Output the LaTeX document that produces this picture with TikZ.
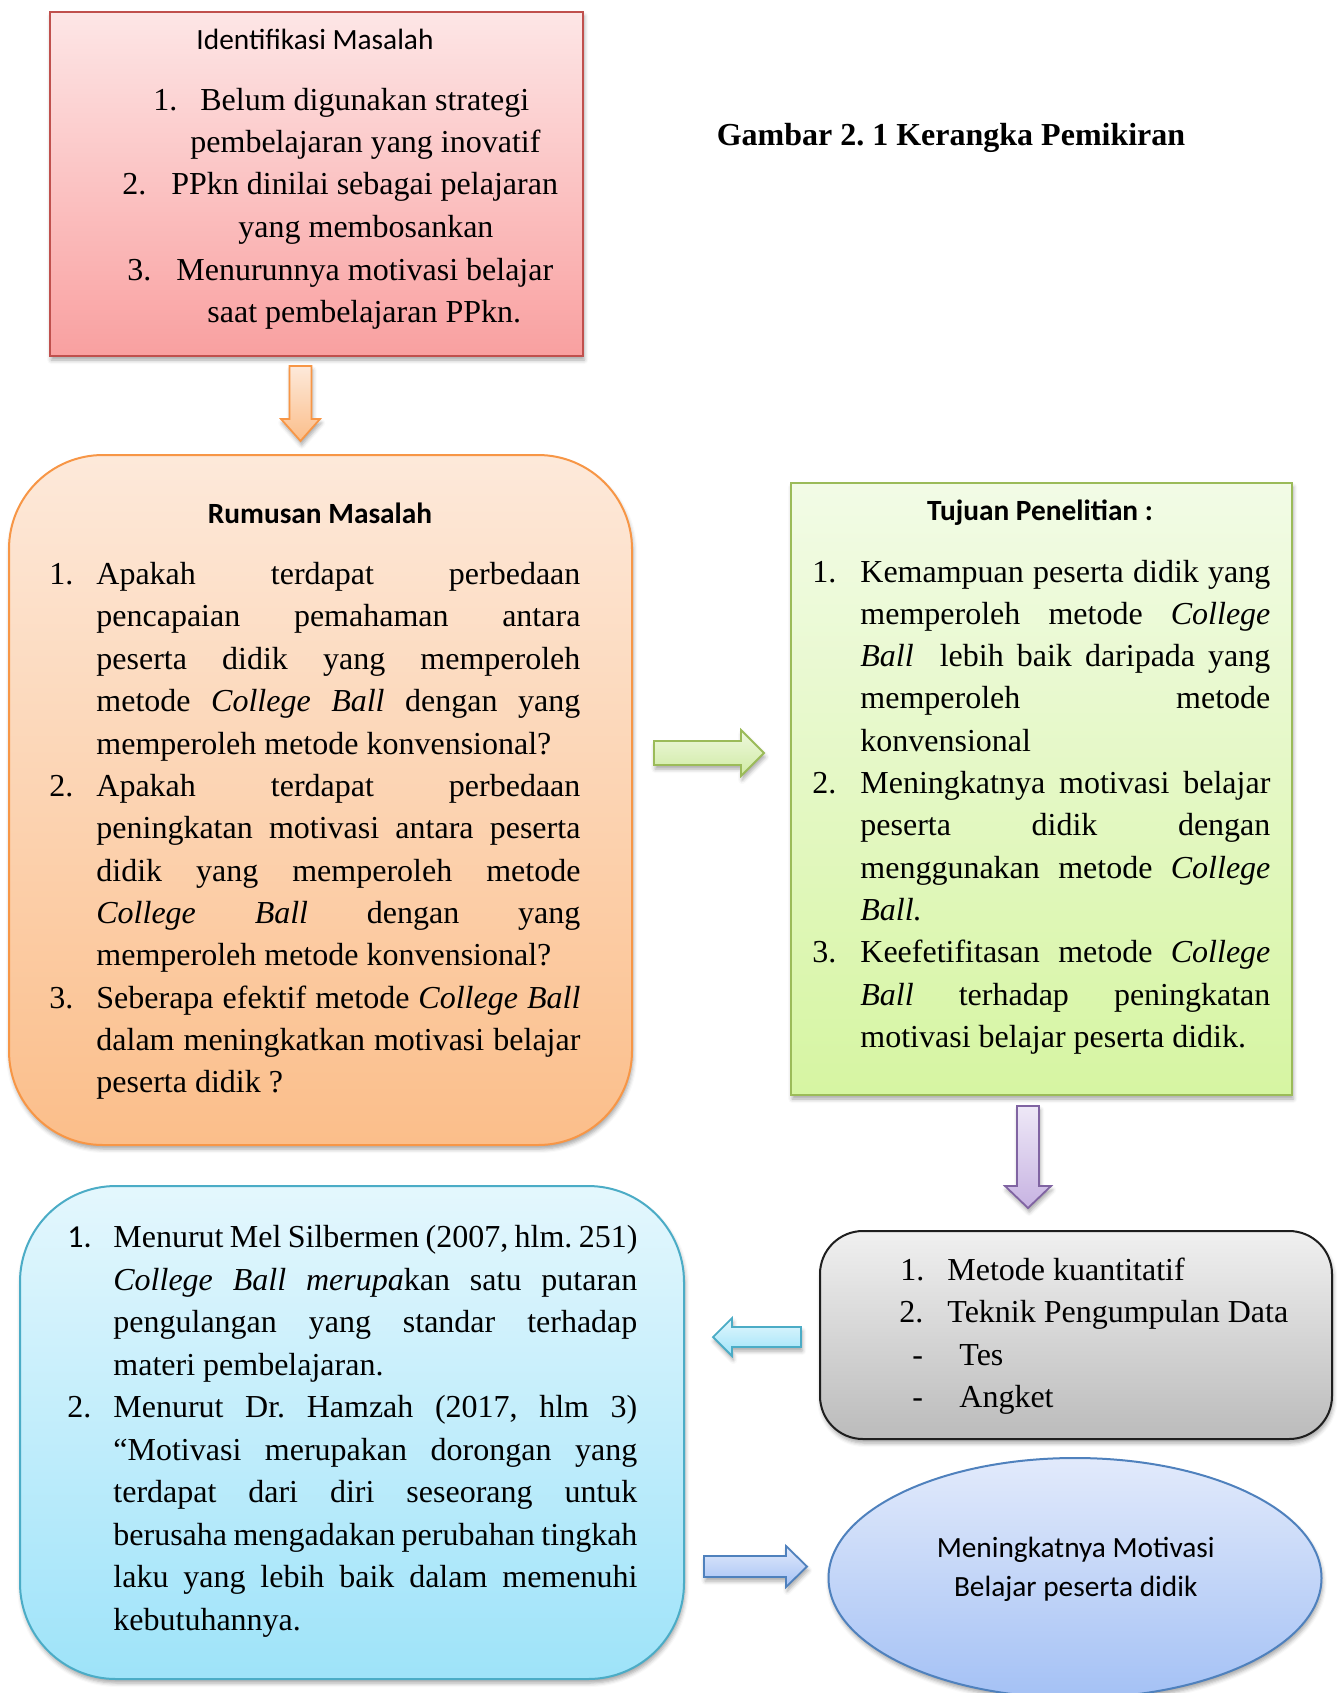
\documentclass[tikz,border=0pt]{standalone}
\usepackage{fontspec}
\setmainfont{Liberation Serif}
\newfontfamily\calfont{Carlito}
\usetikzlibrary{shapes.geometric,shadows.blur}
\newcommand\bodyfont{\fontsize{16}{21.25}\selectfont}
\newcommand\headfont{\calfont\fontsize{14.67}{19.5}\selectfont}
\newcommand\justline[2]{\makebox[#1][s]{#2}}
\definecolor{redB}{HTML}{C0504D}\definecolor{redT}{HTML}{FDE6E6}\definecolor{redBot}{HTML}{F9A0A0}
\definecolor{orB}{HTML}{F79646}\definecolor{orT}{HTML}{FDE9DA}\definecolor{orBot}{HTML}{FBBE8A}
\definecolor{grB}{HTML}{9BBB59}\definecolor{grT}{HTML}{F2FBE6}\definecolor{grBot}{HTML}{D6F5A2}
\definecolor{gyB}{HTML}{1E1E1E}\definecolor{gyT}{HTML}{F0F0F0}\definecolor{gyBot}{HTML}{BBBBBB}
\definecolor{cyB}{HTML}{4BACC6}\definecolor{cyT}{HTML}{E4F7FD}\definecolor{cyBot}{HTML}{9EE3F9}
\definecolor{blB}{HTML}{4F81BD}\definecolor{blT}{HTML}{E2EAFB}\definecolor{blBot}{HTML}{A4C1F5}
\definecolor{puB}{HTML}{8064A2}\definecolor{puT}{HTML}{EEE8F7}\definecolor{puBot}{HTML}{C7B3E2}
\definecolor{gaT}{HTML}{EEF8DD}\definecolor{gaBot}{HTML}{CFEAA3}
\frenchspacing
\begin{document}
\begin{tikzpicture}[x=0.5pt,y=-0.5pt,
  shadowed/.style={blur shadow={shadow xshift=0.6pt,shadow yshift=-2pt,shadow blur radius=2pt,shadow opacity=35}},
  panel/.style={draw, line width=1pt, inner sep=0pt, shadowed},
  tl/.style={anchor=base west, inner sep=0pt, font=\bodyfont},
  hd/.style={anchor=base, inner sep=0pt, font=\headfont},
  hdb/.style={anchor=base, inner sep=0pt, font=\headfont\bfseries},
  barrow/.style={line width=0.9pt, line join=miter, shadowed}]
\useasboundingbox (0,0) rectangle (1339,1693);

% ---------- title
\node[anchor=base, inner sep=0pt, font=\bodyfont\bfseries] (title) at (951,145) {Gambar 2. 1 Kerangka Pemikiran};

% ---------- Identifikasi Masalah
\node[panel, draw=redB, top color=redT, bottom color=redBot, minimum width=266.5pt, minimum height=172pt] (idbox) at (316.5,184) {};
\node[hd] (idh) at (315,49) {Identifikasi Masalah};
\node[tl] (id1n) at (153,110.4) {1.};
\node[tl] (id1) at (200,110.4) {Belum digunakan strategi};
\node[tl] (id1b) at (190,152.6) {pembelajaran yang inovatif};
\node[tl] (id2n) at (122,194.7) {2.};
\node[tl] (id2) at (171,194.7) {PPkn dinilai sebagai pelajaran};
\node[tl] (id2b) at (238,237.9) {yang membosankan};
\node[tl] (id3n) at (127,280) {3.};
\node[tl] (id3) at (176,280) {Menurunnya motivasi belajar};
\node[tl] (id3b) at (207,322) {saat pembelajaran PPkn.};

% arrow down (orange)
\path[barrow, draw=orB, top color=orT, bottom color=orBot]
  (289.5,366) -- (311.5,366) -- (311.5,419) -- (320,419) -- (300.5,441) -- (281,419) -- (289.5,419) -- cycle;

% ---------- Rumusan Masalah
\node[panel, draw=orB, top color=orT, bottom color=orBot, rounded corners=47pt, minimum width=311.5pt, minimum height=345pt] (rmbox) at (320.5,800) {};
\node[hdb] (rmh) at (320,523) {Rumusan Masalah};
\node[tl] (rm1n) at (49,{584.6+42.35*0}) {1.};
\node[tl] (rm1a) at (96,{584.6+42.35*0}) {\justline{242pt}{Apakah terdapat perbedaan}};
\node[tl] (rm1b) at (96,{584.6+42.35*1}) {\justline{242pt}{pencapaian pemahaman antara}};
\node[tl] (rm1c) at (96,{584.6+42.35*2}) {\justline{242pt}{peserta didik yang memperoleh}};
\node[tl] (rm1d) at (96,{584.6+42.35*3}) {\justline{242pt}{metode \textit{College Ball} dengan yang}};
\node[tl] (rm1e) at (96,{584.6+42.35*4}) {memperoleh metode konvensional?};
\node[tl] (rm2n) at (49,{584.6+42.35*5}) {2.};
\node[tl] (rm2a) at (96,{584.6+42.35*5}) {\justline{242pt}{Apakah terdapat perbedaan}};
\node[tl] (rm2b) at (96,{584.6+42.35*6}) {\justline{242pt}{peningkatan motivasi antara peserta}};
\node[tl] (rm2c) at (96,{584.6+42.35*7}) {\justline{242pt}{didik yang memperoleh metode}};
\node[tl] (rm2d) at (96,{584.6+42.35*8}) {\justline{242pt}{\textit{College} \textit{Ball} dengan yang}};
\node[tl] (rm2e) at (96,{584.6+42.35*9}) {memperoleh metode konvensional?};
\node[tl] (rm3n) at (49,{584.6+42.35*10}) {3.};
\node[tl] (rm3a) at (96,{584.6+42.35*10}) {\justline{242pt}{Seberapa efektif metode \textit{College Ball}}};
\node[tl] (rm3b) at (96,{584.6+42.35*11}) {\justline{242pt}{dalam meningkatkan motivasi belajar}};
\node[tl] (rm3c) at (96,{584.6+42.35*12}) {peserta didik ?};

% arrow right (green)
\path[barrow, draw=grB, top color=gaT, bottom color=gaBot]
  (654,741) -- (741,741) -- (741,730) -- (764,753) -- (741,776) -- (741,765) -- (654,765) -- cycle;

% ---------- Tujuan Penelitian
\node[panel, draw=grB, top color=grT, bottom color=grBot, minimum width=250.5pt, minimum height=306pt] (tpbox) at (1041.5,789) {};
\node[hdb] (tph) at (1040,520) {Tujuan Penelitian :};
\node[tl] (tp1n) at (812,{582+42.3*0}) {1.};
\node[tl] (tp1a) at (860,{582+42.3*0}) {\justline{205pt}{Kemampuan peserta didik yang}};
\node[tl] (tp1b) at (860,{582+42.3*1}) {\justline{205pt}{memperoleh metode \textit{College}}};
\node[tl] (tp1c) at (860,{582+42.3*2}) {\justline{205pt}{\textit{Ball}\ \ lebih baik daripada yang}};
\node[tl] (tp1d) at (860,{582+42.3*3}) {\justline{205pt}{memperoleh metode}};
\node[tl] (tp1e) at (860,{582+42.3*4}) {konvensional};
\node[tl] (tp2n) at (812,{582+42.3*5}) {2.};
\node[tl] (tp2a) at (860,{582+42.3*5}) {\justline{205pt}{Meningkatnya motivasi belajar}};
\node[tl] (tp2b) at (860,{582+42.3*6}) {\justline{205pt}{peserta didik dengan}};
\node[tl] (tp2c) at (860,{582+42.3*7}) {\justline{205pt}{menggunakan metode \textit{College}}};
\node[tl] (tp2d) at (860,{582+42.3*8}) {\textit{Ball.}};
\node[tl] (tp3n) at (812,{582+42.3*9}) {3.};
\node[tl] (tp3a) at (860,{582+42.3*9}) {\justline{205pt}{Keefetifitasan metode \textit{College}}};
\node[tl] (tp3b) at (860,{582+42.3*10}) {\justline{205pt}{\textit{Ball} terhadap peningkatan}};
\node[tl] (tp3c) at (860,{582+42.3*11}) {motivasi belajar peserta didik.};

% arrow down (purple)
\path[barrow, draw=puB, top color=puT, bottom color=puBot]
  (1017,1106) -- (1039,1106) -- (1039,1186) -- (1051,1186) -- (1028,1208) -- (1005,1186) -- (1017,1186) -- cycle;

% ---------- Metode
\node[panel, draw=gyB, top color=gyT, bottom color=gyBot, rounded corners=21.5pt, minimum width=256pt, minimum height=104pt] (mtbox) at (1076,1335) {};
\node[tl] (mt1n) at (900,{1280+42.6*0}) {1.};
\node[tl] (mt1) at (947,{1280+42.6*0}) {Metode kuantitatif};
\node[tl] (mt2n) at (899,{1280+42.6*1}) {2.};
\node[tl] (mt2) at (947,{1280+42.6*1}) {Teknik Pengumpulan Data};
\node[tl] (mt3n) at (912,{1280+42.6*2}) {-};
\node[tl] (mt3) at (959,{1280+42.6*2}) {Tes};
\node[tl] (mt4n) at (912,{1280+42.6*3}) {-};
\node[tl] (mt4) at (959,{1280+42.6*3}) {Angket};

% arrow left (cyan)
\path[barrow, draw=cyB, top color=cyT, bottom color=cyBot]
  (801,1327) -- (732,1327) -- (732,1318) -- (713,1337) -- (732,1356) -- (732,1347) -- (801,1347) -- cycle;

% ---------- Teori
\node[panel, draw=cyB, top color=cyT, bottom color=cyBot, rounded corners=48pt, minimum width=332pt, minimum height=246.5pt] (thbox) at (352,1432.5) {};
\node[tl] (th1n) at (67,{1247.7+42.48*0}) {{\calfont 1.}};
\node[tl] (th1a) at (113,{1247.7+42.48*0}) {\justline{262pt}{Menurut Mel Silbermen (2007, hlm. 251)}};
\node[tl] (th1b) at (113,{1247.7+42.48*1}) {\justline{262pt}{\textit{College} \textit{Ball} \textit{merupa}kan satu putaran}};
\node[tl] (th1c) at (113,{1247.7+42.48*2}) {\justline{262pt}{pengulangan yang standar terhadap}};
\node[tl] (th1d) at (113,{1247.7+42.48*3}) {materi pembelajaran.};
\node[tl] (th2n) at (67,{1247.7+42.48*4}) {2.};
\node[tl] (th2a) at (113,{1247.7+42.48*4}) {\justline{262pt}{Menurut Dr. Hamzah (2017, hlm 3)}};
\node[tl] (th2b) at (113,{1247.7+42.48*5}) {\justline{262pt}{“Motivasi merupakan dorongan yang}};
\node[tl] (th2c) at (113,{1247.7+42.48*6}) {\justline{262pt}{terdapat dari diri seseorang untuk}};
\node[tl] (th2d) at (113,{1247.7+42.48*7}) {\justline{262pt}{berusaha mengadakan perubahan tingkah}};
\node[tl] (th2e) at (113,{1247.7+42.48*8}) {\justline{262pt}{laku yang lebih baik dalam memenuhi}};
\node[tl] (th2f) at (113,{1247.7+42.48*9}) {kebutuhannya.};

% arrow right (blue)
\path[barrow, draw=blB, top color=blT, bottom color=blBot]
  (704,1556) -- (786,1556) -- (786,1546) -- (807,1566.5) -- (786,1587) -- (786,1577) -- (704,1577) -- cycle;

% ---------- goal ellipse
\node[panel, ellipse, draw=blB, top color=blT, bottom color=blBot, minimum width=246.5pt, minimum height=120pt] (goal) at (1075,1578) {};
\node[hd] (g1) at (1075.7,1557) {Meningkatnya Motivasi};
\node[hd] (g2) at (1075.7,1596) {Belajar peserta didik};
\end{tikzpicture}
\end{document}
